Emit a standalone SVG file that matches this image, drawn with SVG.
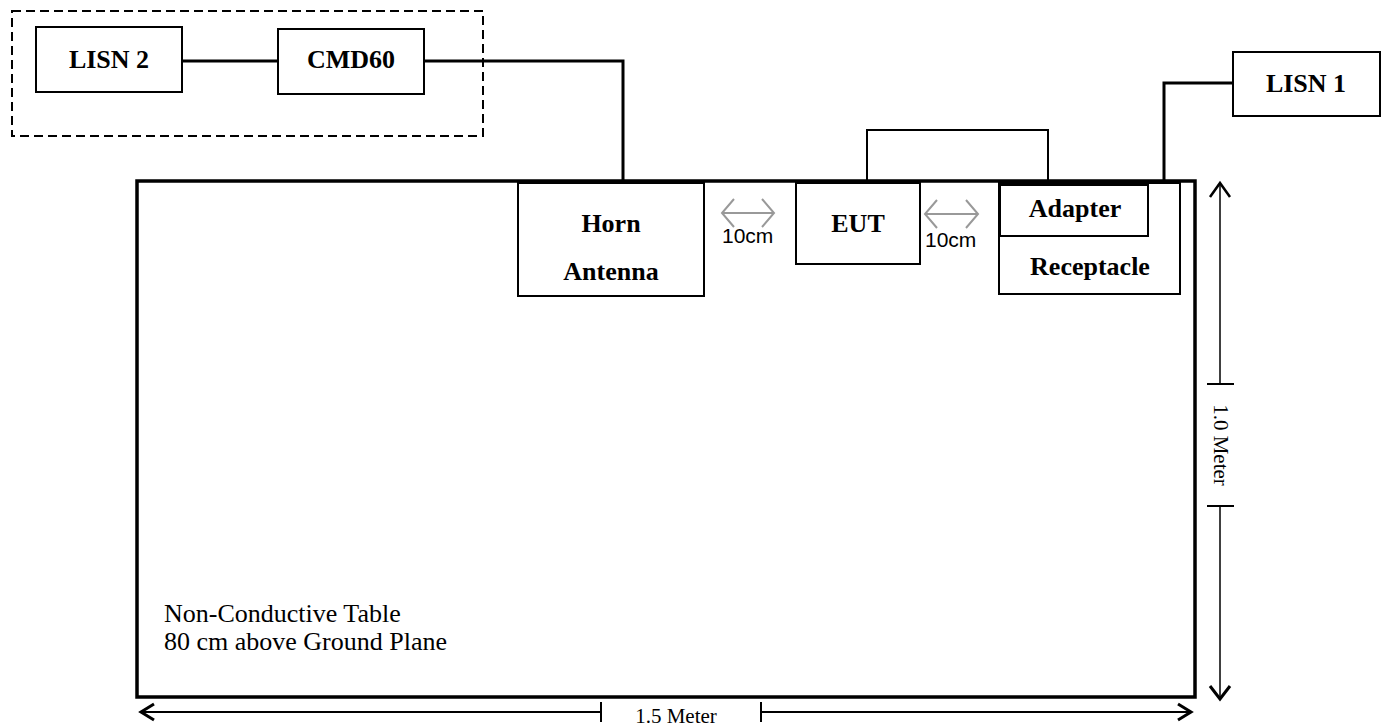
<svg xmlns="http://www.w3.org/2000/svg" width="1387" height="727" viewBox="0 0 1387 727">
<style>
.box{fill:#fff;stroke:#000;stroke-width:2}
.lbl{font-family:"Liberation Serif",serif;font-weight:bold;font-size:26px;text-anchor:middle;fill:#000}
.reg{font-family:"Liberation Serif",serif;font-size:26px;fill:#000}
.dimt{font-family:"Liberation Serif",serif;font-size:21px;fill:#000;text-anchor:middle}
.cm{font-family:"Liberation Sans",sans-serif;font-size:21px;fill:#000}
.wire{fill:none;stroke:#000;stroke-width:3}
.thin{fill:none;stroke:#000;stroke-width:2}
.gray{fill:none;stroke:#999;stroke-width:2}
</style>
<rect x="12" y="11" width="471" height="125" fill="none" stroke="#000" stroke-width="2" stroke-dasharray="9,5"/>
<rect id="table" x="137" y="181" width="1058" height="516" fill="none" stroke="#000" stroke-width="3.5"/>
<g id="connectors">
<line class="wire" x1="182" y1="61" x2="278" y2="61"/>
<polyline class="wire" points="424,61 623,61 623,181"/>
<polyline class="thin" points="867,182 867,130 1048,130 1048,182"/>
<polyline class="wire" points="1164,182 1164,83 1234,83"/>
</g>
<g id="lisn2"><rect class="box" x="36" y="27" width="146" height="65"/><text class="lbl" x="109" y="68">LISN 2</text></g>
<g id="cmd60"><rect class="box" x="278" y="29" width="146" height="65"/><text class="lbl" x="351" y="68">CMD60</text></g>
<g id="lisn1"><rect class="box" x="1233" y="52" width="147" height="64"/><text class="lbl" x="1306" y="92">LISN 1</text></g>
<g id="horn"><rect class="box" x="518" y="183" width="186" height="113"/><text class="lbl" x="611" y="232">Horn</text><text class="lbl" x="611" y="280">Antenna</text></g>
<g id="eut"><rect class="box" x="796" y="183" width="124" height="81"/><text class="lbl" x="858" y="232">EUT</text></g>
<g id="receptacle"><rect class="box" x="999" y="183" width="181" height="111"/><text class="lbl" x="1090" y="275">Receptacle</text></g>
<g id="adapter"><rect class="box" x="1000" y="185" width="148" height="51"/><text class="lbl" x="1075" y="217">Adapter</text></g>
<g id="gap1">
<line class="gray" x1="722" y1="213" x2="774" y2="213"/>
<polyline class="gray" points="734,199 722,213 734,227"/>
<polyline class="gray" points="762,199 774,213 762,227"/>
<text class="cm" x="722" y="243">10cm</text>
</g>
<g id="gap2">
<line class="gray" x1="925" y1="214" x2="978" y2="214"/>
<polyline class="gray" points="937,200 925,214 937,228"/>
<polyline class="gray" points="966,200 978,214 966,228"/>
<text class="cm" x="925" y="247">10cm</text>
</g>
<text class="reg" x="164" y="622">Non-Conductive Table</text>
<text class="reg" x="164" y="650">80 cm above Ground Plane</text>
<g id="dim-h">
<line class="thin" x1="141" y1="712" x2="601" y2="712"/>
<line class="thin" x1="601" y1="702" x2="601" y2="722"/>
<polyline class="wire" points="154,704 141,712 154,720"/>
<line class="thin" x1="761" y1="712" x2="1190" y2="712"/>
<line class="thin" x1="761" y1="702" x2="761" y2="722"/>
<polyline class="wire" points="1178,704 1191,712 1178,720"/>
<text class="dimt" x="676" y="723">1.5 Meter</text>
</g>
<g id="dim-v">
<line x1="1220" y1="184" x2="1220" y2="384" stroke="#000" stroke-width="1.5"/>
<line class="thin" x1="1207" y1="384" x2="1234" y2="384"/>
<polyline fill="none" stroke="#000" stroke-width="2.5" points="1210,197 1220,183 1230,197"/>
<line x1="1220" y1="506" x2="1220" y2="698" stroke="#000" stroke-width="1.5"/>
<line class="thin" x1="1207" y1="506" x2="1234" y2="506"/>
<polyline class="wire" points="1210,686 1220,699 1230,686"/>
<text class="dimt" x="1220" y="445" transform="rotate(90 1220 445)" dy="6">1.0 Meter</text>
</g>
</svg>
